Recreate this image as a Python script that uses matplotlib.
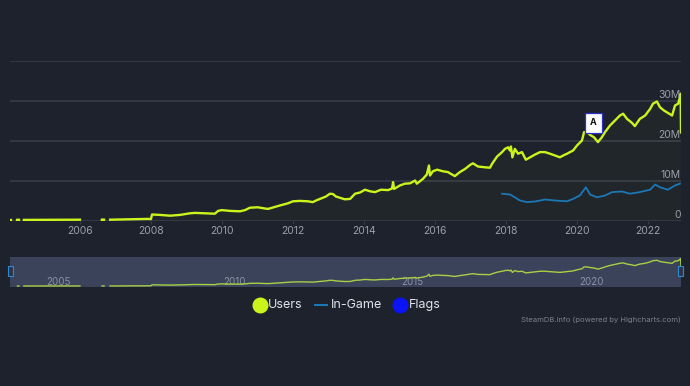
import numpy as np
import matplotlib
matplotlib.use("Agg")
import matplotlib.pyplot as plt
from matplotlib.patches import Rectangle
from matplotlib.lines import Line2D

nan = float("nan")

# Users (millions) by decimal year; NaN marks data gaps
users_year = [2004.04, 2004.05, 2004.10, 2004.24, 2004.28, 2004.30, 2004.42, 2006.00, 2006.02,
              2006.62, 2006.68, 2006.70, 2006.85, 2007.13, 2007.55, 2007.92, 2008.00, 2008.03,
              2008.25, 2008.54, 2008.82, 2009.10, 2009.24, 2009.52, 2009.66, 2009.80, 2009.89,
              2010.00, 2010.23, 2010.51, 2010.65, 2010.79, 2011.01, 2011.21, 2011.30, 2011.49,
              2011.63, 2011.86, 2012.00, 2012.20, 2012.42, 2012.56, 2012.65, 2012.76, 2012.93,
              2013.04, 2013.13, 2013.21, 2013.46, 2013.61, 2013.75, 2013.89, 2014.03, 2014.17,
              2014.31, 2014.48, 2014.68, 2014.79, 2014.82, 2014.85,
              2015.01, 2015.15, 2015.30, 2015.44, 2015.49, 2015.66, 2015.77, 2015.83, 2015.86,
              2015.94, 2016.06, 2016.23, 2016.37, 2016.42, 2016.56, 2016.70, 2016.85, 2016.99,
              2017.07, 2017.21, 2017.41, 2017.55, 2017.61, 2017.75, 2017.89, 2017.97, 2018.06,
              2018.11, 2018.14, 2018.18, 2018.25, 2018.34, 2018.45, 2018.56, 2018.68, 2018.82,
              2018.96, 2019.10, 2019.24, 2019.38, 2019.52, 2019.61, 2019.72, 2019.89, 2020.00,
              2020.14, 2020.20, 2020.28, 2020.37, 2020.48, 2020.59, 2020.70, 2020.79, 2020.93,
              2021.07, 2021.21, 2021.30, 2021.41, 2021.55, 2021.63, 2021.77, 2021.92, 2022.06,
              2022.14, 2022.25, 2022.34, 2022.45, 2022.56, 2022.68, 2022.76, 2022.85, 2022.90,
              2022.92, 2022.93]
users_val = [0.10, nan, nan, 0.15, 0.15, nan, 0.15, 0.20, nan,
             0.20, 0.20, nan, 0.20, 0.25, 0.30, 0.40, 0.35, 1.50,
             1.40, 1.20, 1.40, 1.80, 1.90, 1.80, 1.75, 1.70, 2.40,
             2.60, 2.40, 2.30, 2.60, 3.20, 3.30, 3.00, 2.90, 3.40,
             3.75, 4.30, 4.80, 4.90, 4.80, 4.60, 5.00, 5.40, 6.00,
             6.70, 6.60, 6.00, 5.30, 5.40, 6.70, 7.00, 7.70, 7.30,
             7.10, 7.70, 7.60, 8.00, 9.60, 7.90,
             8.75, 9.20, 9.30, 10.00, 9.20, 10.40, 11.50, 13.75, 11.25,
             12.30, 12.70, 12.30, 12.10, 11.80, 11.10, 12.10, 12.90, 13.90,
             14.30, 13.50, 13.30, 13.20, 14.20, 16.00, 17.10, 17.90, 18.30,
             17.50, 18.50, 15.80, 17.90, 16.70, 17.10, 15.20, 15.80, 16.50,
             17.10, 17.10, 16.70, 16.25, 15.80, 16.25, 16.70, 17.50, 18.75,
             20.00, 22.10, 22.10, 21.40, 20.80, 19.60, 20.80, 22.10, 23.75,
             25.00, 26.25, 26.70, 25.40, 24.40, 23.60, 25.40, 26.25, 27.90,
             29.20, 29.75, 28.30, 27.50, 26.90, 26.25, 28.75, 29.20, 30.80,
             31.70, 22.00]

# In-Game (millions)
ingame_year = [2017.89, 2018.11, 2018.25, 2018.39, 2018.59, 2018.82, 2019.10, 2019.38, 2019.72,
               2019.89, 2020.08, 2020.25, 2020.37, 2020.56, 2020.79, 2020.99, 2021.27, 2021.49,
               2021.77, 2022.06, 2022.20, 2022.34, 2022.56, 2022.76, 2022.90]
ingame_val = [6.70, 6.50, 5.80, 5.00, 4.60, 4.75, 5.25, 5.00, 4.80,
              5.40, 6.25, 8.30, 6.50, 5.80, 6.25, 7.10, 7.25, 6.70,
              7.10, 7.70, 9.00, 8.30, 7.70, 8.75, 9.20]

flag_year = 2020.23
flag_val = 22.1
flag_text = "A"

y_ticks = [0, 10, 20, 30, 40]
y_labels = ["0", "10M", "20M", "30M", ""]
x_ticks = [2006, 2008, 2010, 2012, 2014, 2016, 2018, 2020, 2022]
nav_ticks = [2005, 2010, 2015, 2020]
legend_labels = ["Users", "In-Game", "Flags"]
credit = "SteamDB.info (powered by Highcharts.com)"

BG = "#1d222c"
GRID = "#363d4b"
USERS = "#cdf31c"
INGAME = "#1c77b5"
FLAGS = "#0a14f5"
TXT = "#9aa0aa"

W, H = 690, 386
fig = plt.figure(figsize=(W / 100, H / 100), dpi=100, facecolor=BG)
plt.rcParams["font.family"] = ["Inter", "DejaVu Sans"]

xmin, xmax = 2004.03, 2022.93

def fx(px):
    return px / W

def fy(py):
    return 1 - py / H

# main axes
ax = fig.add_axes([fx(10), fy(220.5), fx(681) - fx(10), fy(60.5) - fy(220.5)])
ax.set_facecolor(BG)
ax.set_xlim(xmin, xmax)
ax.set_ylim(0, 40)
for s in ax.spines.values():
    s.set_visible(False)
for t in y_ticks:
    ax.axhline(t, color=GRID, lw=1.2, zorder=1)
ax.set_yticks([])
ax.set_xticks(x_ticks)
ax.set_xticklabels([str(t) for t in x_ticks], color=TXT, fontsize=7.5)
ax.tick_params(axis="x", length=2, color=GRID, pad=2)

uy = np.array(users_year)
uv = np.array(users_val)
ax.fill_between(uy, 0, uv, color=USERS, alpha=0.025, lw=0, zorder=2)
ax.plot(uy, uv, color=USERS, lw=1.7, zorder=4, solid_joinstyle="round")
ax.plot(ingame_year, ingame_val, color=INGAME, lw=1.3, zorder=3)

# isolated dots at data start
for yr, v in [(2004.04, 0.10), (2004.24, 0.15), (2006.62, 0.20)]:
    ax.plot([yr, yr + 0.03], [v, v], color=USERS, lw=1.7, zorder=4)

for t, lab in zip(y_ticks, y_labels):
    if lab:
        ax.text(xmax - 0.01, t + 0.2, lab, color=TXT, fontsize=7.5, ha="right", va="bottom", zorder=5)

# flag
ax.plot([flag_year, flag_year], [flag_val, 22.3], color=FLAGS, lw=0.8, zorder=5)
ax.annotate(flag_text, xy=(flag_year, 24.4), xytext=(6.0, 0), textcoords="offset points",
            ha="center", va="center", fontsize=6.5, fontweight="bold", color="#111111",
            bbox=dict(boxstyle="square,pad=0.6", fc="white", ec="#2a33c9", lw=0.9), zorder=6)

# navigator
nav = fig.add_axes([fx(10), fy(287), fx(681) - fx(10), fy(257) - fy(287)])
nav.set_facecolor("#3a4359")
nav.set_xlim(xmin, xmax)
nav.set_ylim(-1.0, 33.5)
for s in nav.spines.values():
    s.set_visible(False)
nav.set_xticks([])
nav.set_yticks([])
nav.plot(uy, uv, color="#a9cf45", lw=1.0, zorder=3)
for t in nav_ticks:
    nav.text(t + 0.05, 4.5, str(t), color="#8a93a6", fontsize=7, ha="left", va="center", zorder=2)

# navigator handles
for px in (10.5, 680.5):
    fig.patches.append(Rectangle((fx(px - 2.5), fy(276)), fx(5), fy(266) - fy(276),
                                 transform=fig.transFigure, fc="#2d3547", ec="#2f8ad0", lw=0.8))

# legend
fig.add_artist(Line2D([259.5 / W], [fy(305)], marker="o", ms=10.5, color=USERS, transform=fig.transFigure))
fig.text(268 / W, fy(305), legend_labels[0], color="#dfe3ea", fontsize=9, va="center", ha="left")
fig.add_artist(Line2D([fx(315), fx(327)], [fy(305), fy(305)], color=INGAME, lw=1.5, transform=fig.transFigure))
fig.text(331 / W, fy(305), legend_labels[1], color="#dfe3ea", fontsize=9, va="center", ha="left")
fig.add_artist(Line2D([400 / W], [fy(305)], marker="o", ms=10.5, color=FLAGS, transform=fig.transFigure))
fig.text(409 / W, fy(305), legend_labels[2], color="#dfe3ea", fontsize=9, va="center", ha="left")

fig.text(fx(681), fy(320), credit, color="#7c828d", fontsize=5.5, ha="right", va="center")

fig.savefig("out.png", dpi=100, facecolor=BG)
